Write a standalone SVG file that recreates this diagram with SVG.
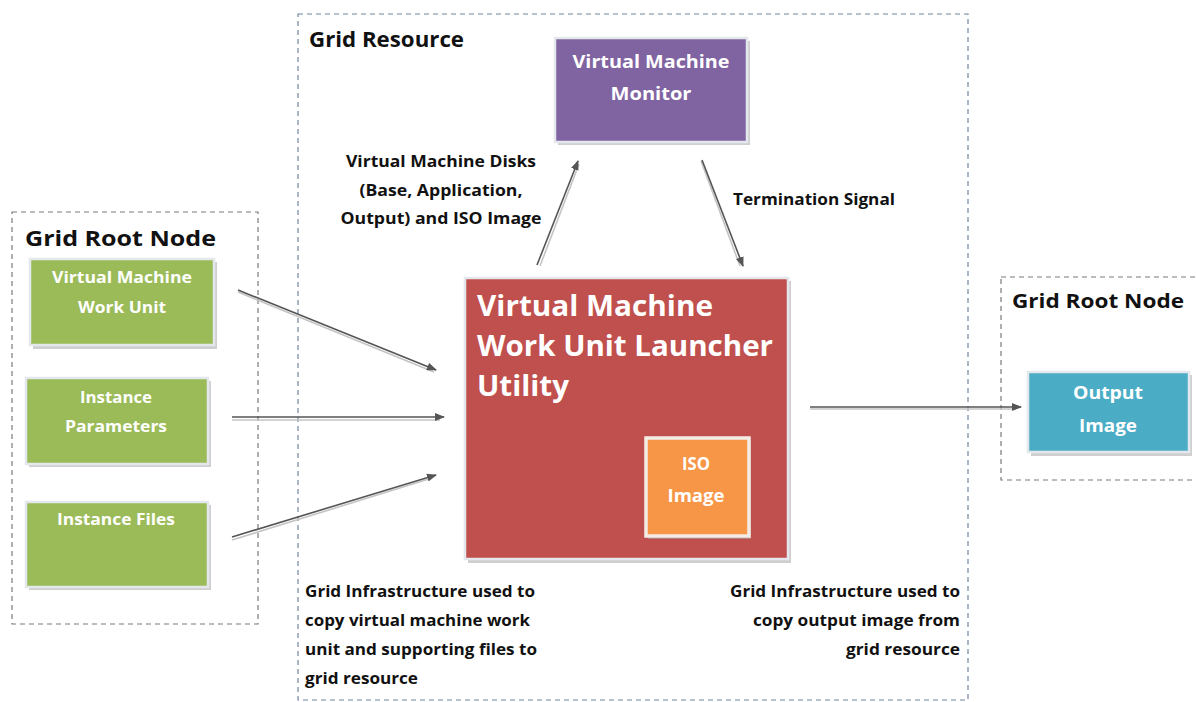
<svg xmlns="http://www.w3.org/2000/svg" width="1196" height="702" viewBox="0 0 1196 702">
  <style>
    text { font-family: "Open Sans", "Lato", "Liberation Sans", sans-serif; font-weight: bold; }
    .hdr { fill: #111; }
    .lbl { fill: #111; font-size: 16px; }
    .wt { fill: #fff; }
    .mid { text-anchor: middle; }
    .end { text-anchor: end; }
    .zone { fill: none; stroke-width: 1.2; stroke-dasharray: 5 4; }
    .shadow { fill: #a8a8a8; opacity: 0.55; }
    .box { stroke: #e4e8ec; stroke-width: 2.5; }
    .wire { fill: none; stroke: #555; stroke-width: 1.6; }
    .wire-sh { fill: none; stroke: #c4c4c4; stroke-width: 1.6; }
  </style>
  <defs>
    <marker id="arrow" viewBox="0 0 10 8" refX="9" refY="4" markerWidth="10" markerHeight="8" markerUnits="userSpaceOnUse" orient="auto">
      <path d="M0,0 L10,4 L0,8 z" fill="#555"/>
    </marker>
  </defs>
  <rect x="0" y="0" width="1196" height="702" fill="#fff"/>

  <!-- dashed zones -->
  <g id="zone-grid-resource">
    <rect class="zone" x="298" y="14" width="670" height="686" stroke="#6f86a0"/>
    <text class="hdr" x="309" y="47" font-size="21" font-weight="600" textLength="155" lengthAdjust="spacingAndGlyphs">Grid Resource</text>
  </g>
  <g id="zone-root-left">
    <rect class="zone" x="12" y="212" width="246" height="412" stroke="#7a7a7a"/>
    <text class="hdr" x="25" y="246" font-size="22" textLength="191" lengthAdjust="spacingAndGlyphs">Grid Root Node</text>
  </g>
  <g id="zone-root-right">
    <rect class="zone" x="1001" y="277" width="210" height="203" stroke="#7a7a7a"/>
    <text class="hdr" x="1012" y="308" font-size="20" textLength="172" lengthAdjust="spacingAndGlyphs">Grid Root Node</text>
  </g>

  <!-- input nodes -->
  <g id="node-work-unit">
    <rect class="shadow" x="33" y="262" width="184" height="87"/>
    <rect class="box" x="30" y="259" width="184" height="86" fill="#9bbb59"/>
    <text class="wt mid" x="122" y="283" font-size="16" textLength="140" lengthAdjust="spacingAndGlyphs">Virtual Machine</text>
    <text class="wt mid" x="122" y="313" font-size="16" textLength="88" lengthAdjust="spacingAndGlyphs">Work Unit</text>
  </g>
  <g id="node-parameters">
    <rect class="shadow" x="29" y="381" width="182" height="86"/>
    <rect class="box" x="26" y="378" width="182" height="86" fill="#9bbb59"/>
    <text class="wt mid" x="116" y="403" font-size="16" textLength="72" lengthAdjust="spacingAndGlyphs">Instance</text>
    <text class="wt mid" x="116" y="432" font-size="16" textLength="102" lengthAdjust="spacingAndGlyphs">Parameters</text>
  </g>
  <g id="node-files">
    <rect class="shadow" x="29" y="505" width="182" height="85"/>
    <rect class="box" x="26" y="502" width="182" height="85" fill="#9bbb59"/>
    <text class="wt mid" x="116" y="525" font-size="16" textLength="118" lengthAdjust="spacingAndGlyphs">Instance Files</text>
  </g>

  <!-- monitor -->
  <g id="node-monitor">
    <rect class="shadow" x="558" y="41" width="192" height="104"/>
    <rect class="box" x="555" y="38" width="192" height="104" fill="#8064a2"/>
    <text class="wt mid" x="651" y="68" font-size="18" textLength="157" lengthAdjust="spacingAndGlyphs">Virtual Machine</text>
    <text class="wt mid" x="651" y="100" font-size="18" textLength="81" lengthAdjust="spacingAndGlyphs">Monitor</text>
  </g>

  <!-- launcher with embedded ISO image -->
  <g id="node-launcher">
    <rect class="shadow" x="468" y="281" width="323" height="282"/>
    <rect class="box" x="465" y="278" width="323" height="281" fill="#c0504d"/>
    <text class="wt" x="477" y="316" font-size="29" textLength="236" lengthAdjust="spacingAndGlyphs">Virtual Machine</text>
    <text class="wt" x="477" y="356" font-size="29" textLength="296" lengthAdjust="spacingAndGlyphs">Work Unit Launcher</text>
    <text class="wt" x="477" y="396" font-size="29" textLength="92" lengthAdjust="spacingAndGlyphs">Utility</text>
  </g>
  <g id="node-iso">
    <rect class="shadow" x="648" y="440" width="103" height="99"/>
    <rect x="646" y="438" width="103" height="98" fill="#f79646" stroke="#f4ece6" stroke-width="3.5"/>
    <text class="wt mid" x="696" y="470" font-size="17" textLength="28" lengthAdjust="spacingAndGlyphs">ISO</text>
    <text class="wt mid" x="696" y="502" font-size="17" textLength="57" lengthAdjust="spacingAndGlyphs">Image</text>
  </g>

  <!-- output -->
  <g id="node-output">
    <rect class="shadow" x="1031" y="375" width="161" height="81"/>
    <rect class="box" x="1028" y="372" width="161" height="80" fill="#4bacc6"/>
    <text class="wt mid" x="1108" y="399" font-size="18" textLength="70" lengthAdjust="spacingAndGlyphs">Output</text>
    <text class="wt mid" x="1108" y="432" font-size="18" textLength="58" lengthAdjust="spacingAndGlyphs">Image</text>
  </g>

  <!-- connectors -->
  <g id="connectors">
    <path class="wire-sh" d="M238,292 L434,372"/>
    <path class="wire-sh" d="M232,420 L440,420"/>
    <path class="wire-sh" d="M232,540 L432,478"/>
    <path class="wire-sh" d="M540,266 L579,164"/>
    <path class="wire-sh" d="M701,161 L740,266"/>
    <path class="wire-sh" d="M810,409 L1016,409"/>
    <path class="wire" d="M238,290 L436,370" marker-end="url(#arrow)"/>
    <path class="wire" d="M232,417 L444,417" marker-end="url(#arrow)"/>
    <path class="wire" d="M232,537 L436,475" marker-end="url(#arrow)"/>
    <path class="wire" d="M537,265 L578,161" marker-end="url(#arrow)"/>
    <path class="wire" d="M702,160 L743,266" marker-end="url(#arrow)"/>
    <path class="wire" d="M810,407 L1021,407" marker-end="url(#arrow)"/>
  </g>

  <!-- connector labels -->
  <g id="labels">
    <text class="lbl mid" x="441" y="167" textLength="190" lengthAdjust="spacingAndGlyphs">Virtual Machine Disks</text>
    <text class="lbl mid" x="441" y="196" textLength="163" lengthAdjust="spacingAndGlyphs">(Base, Application,</text>
    <text class="lbl mid" x="441" y="224" textLength="201" lengthAdjust="spacingAndGlyphs">Output) and ISO Image</text>
    <text class="lbl" x="733" y="205" textLength="162" lengthAdjust="spacingAndGlyphs">Termination Signal</text>

    <text class="lbl" x="305" y="597" textLength="230" lengthAdjust="spacingAndGlyphs">Grid Infrastructure used to</text>
    <text class="lbl" x="305" y="626" textLength="225" lengthAdjust="spacingAndGlyphs">copy virtual machine work</text>
    <text class="lbl" x="305" y="655" textLength="232" lengthAdjust="spacingAndGlyphs">unit and supporting files to</text>
    <text class="lbl" x="305" y="684" textLength="113" lengthAdjust="spacingAndGlyphs">grid resource</text>

    <text class="lbl end" x="960" y="597" textLength="230" lengthAdjust="spacingAndGlyphs">Grid Infrastructure used to</text>
    <text class="lbl end" x="960" y="626" textLength="207" lengthAdjust="spacingAndGlyphs">copy output image from</text>
    <text class="lbl end" x="960" y="655" textLength="114" lengthAdjust="spacingAndGlyphs">grid resource</text>
  </g>
</svg>
